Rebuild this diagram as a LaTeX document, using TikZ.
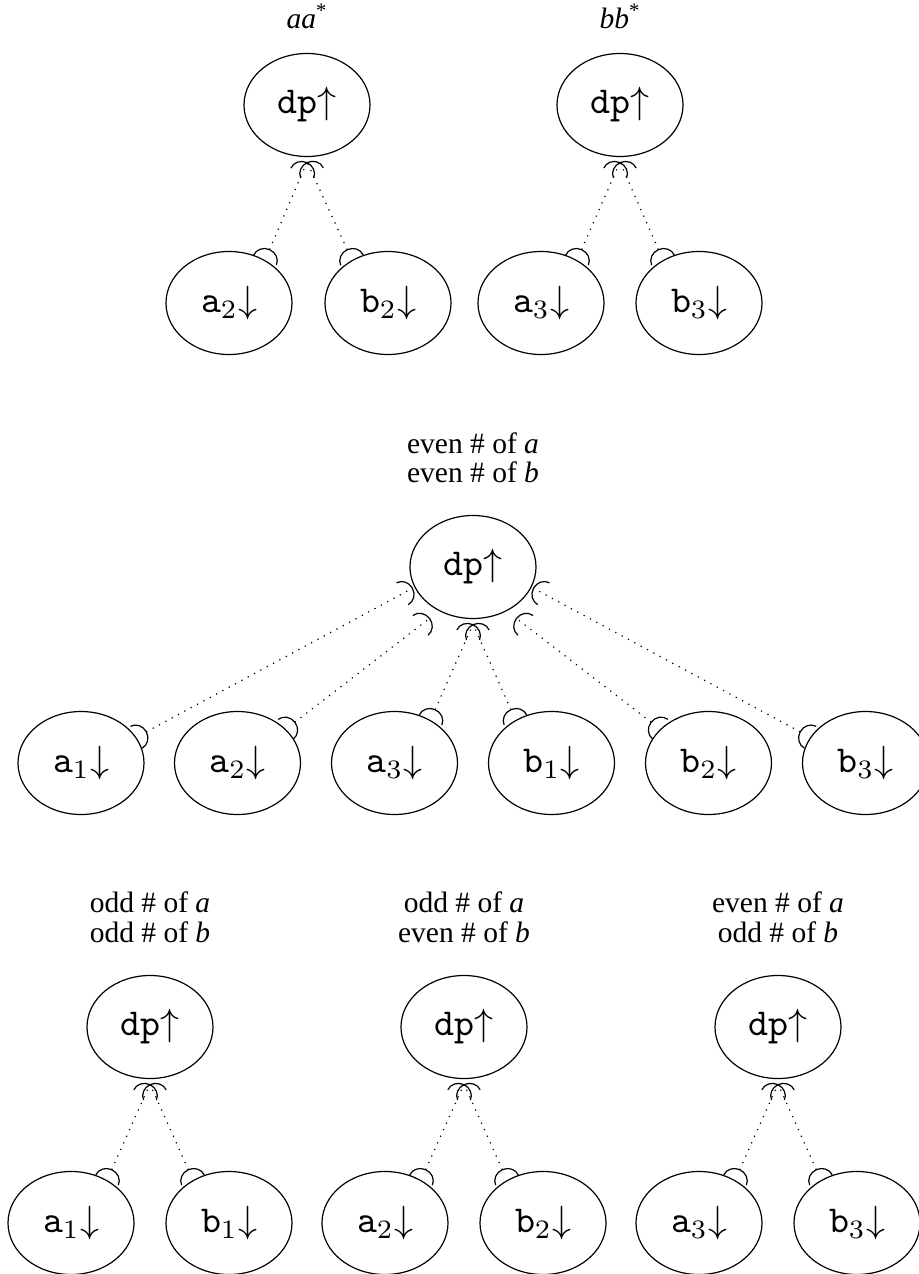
\documentclass[tikz,border=0pt]{standalone}
\usepackage{fontspec}
\setmainfont{Liberation Serif}
\usetikzlibrary{shapes.geometric,arrows.meta,calc}

\newcommand\dpup{\scalebox{1.9}{\texttt{dp}$\uparrow$}}
\newcommand\leaftext[2]{\scalebox{1.9}{\texttt{#1}$_{#2}\mathord{\downarrow}$}}

\tikzset{
  oval/.style={ellipse,draw,line width=0.6pt,minimum width=63pt,minimum height=51.5pt,inner sep=0pt},
  lbl/.style={anchor=base,inner sep=0pt,font=\fontsize{14.75}{17}\selectfont},
  link/.style={line width=0.6pt,dash pattern=on 0.6pt off 3pt,
    arrows={Arc Barb[reversed,width=13pt,length=6pt]-Arc Barb[width=13pt,length=6pt]}},
}

\begin{document}
\begin{tikzpicture}[x=0.5pt,y=-0.5pt]
\useasboundingbox (0,0) rectangle (919,1274);

% ---- aa* ----
\node[lbl] (tl-lbl) at (307,28) {\textit{aa}\textsuperscript{*}};
\node[oval] (tl-dp) at (307,105) {\dpup};
\node[oval] (tl-a) at (229,303) {\leaftext{a}{2}};
\node[oval] (tl-b) at (388,303) {\leaftext{b}{2}};
\coordinate (tl-in) at ($(tl-dp)+(0,57)$);
\draw[link] (tl-a.50) -- (tl-in);
\draw[link] (tl-b.130) -- (tl-in);

% ---- bb* ----
\node[lbl] (tr-lbl) at (620,28) {\textit{bb}\textsuperscript{*}};
\node[oval] (tr-dp) at (620,105) {\dpup};
\node[oval] (tr-a) at (541,303) {\leaftext{a}{3}};
\node[oval] (tr-b) at (699,303) {\leaftext{b}{3}};
\coordinate (tr-in) at ($(tr-dp)+(0,57)$);
\draw[link] (tr-a.50) -- (tr-in);
\draw[link] (tr-b.130) -- (tr-in);

% ---- even a, even b ----
\node[lbl] (m-lbl1) at (473,453) {even \# of \textit{a}};
\node[lbl] (m-lbl2) at (473,482) {even \# of \textit{b}};
\node[oval] (m-dp) at (473,567) {\dpup};
\node[oval] (m-a1) at (81,763) {\leaftext{a}{1}};
\node[oval] (m-a2) at (237.5,763) {\leaftext{a}{2}};
\node[oval] (m-a3) at (394.5,763) {\leaftext{a}{3}};
\node[oval] (m-b1) at (551.5,763) {\leaftext{b}{1}};
\node[oval] (m-b2) at (708.5,763) {\leaftext{b}{2}};
\node[oval] (m-b3) at (865.5,763) {\leaftext{b}{3}};
\coordinate (m-i1) at ($(m-dp)+(-60,21)$);
\coordinate (m-i2) at ($(m-dp)+(-43,51)$);
\coordinate (m-in) at ($(m-dp)+(0,57)$);
\coordinate (m-i5) at ($(m-dp)+(43,51)$);
\coordinate (m-i6) at ($(m-dp)+(60,21)$);
\draw[link] (m-a1.25) -- (m-i1);
\draw[link] (m-a2.35) -- (m-i2);
\draw[link] (m-a3.50) -- (m-in);
\draw[link] (m-b1.130) -- (m-in);
\draw[link] (m-b2.145) -- (m-i5);
\draw[link] (m-b3.155) -- (m-i6);

% ---- odd a, odd b ----
\node[lbl] (bl-lbl1) at (150,912) {odd \# of \textit{a}};
\node[lbl] (bl-lbl2) at (150,942) {odd \# of \textit{b}};
\node[oval] (bl-dp) at (150,1027) {\dpup};
\node[oval] (bl-a) at (71,1223) {\leaftext{a}{1}};
\node[oval] (bl-b) at (229,1223) {\leaftext{b}{1}};
\coordinate (bl-in) at ($(bl-dp)+(0,57)$);
\draw[link] (bl-a.50) -- (bl-in);
\draw[link] (bl-b.130) -- (bl-in);

% ---- odd a, even b ----
\node[lbl] (bm-lbl1) at (464,912) {odd \# of \textit{a}};
\node[lbl] (bm-lbl2) at (464,942) {even \# of \textit{b}};
\node[oval] (bm-dp) at (464,1027) {\dpup};
\node[oval] (bm-a) at (385,1223) {\leaftext{a}{2}};
\node[oval] (bm-b) at (543,1223) {\leaftext{b}{2}};
\coordinate (bm-in) at ($(bm-dp)+(0,57)$);
\draw[link] (bm-a.50) -- (bm-in);
\draw[link] (bm-b.130) -- (bm-in);

% ---- even a, odd b ----
\node[lbl] (br-lbl1) at (778,912) {even \# of \textit{a}};
\node[lbl] (br-lbl2) at (778,942) {odd \# of \textit{b}};
\node[oval] (br-dp) at (778,1027) {\dpup};
\node[oval] (br-a) at (699,1223) {\leaftext{a}{3}};
\node[oval] (br-b) at (857,1223) {\leaftext{b}{3}};
\coordinate (br-in) at ($(br-dp)+(0,57)$);
\draw[link] (br-a.50) -- (br-in);
\draw[link] (br-b.130) -- (br-in);
\end{tikzpicture}
\end{document}
